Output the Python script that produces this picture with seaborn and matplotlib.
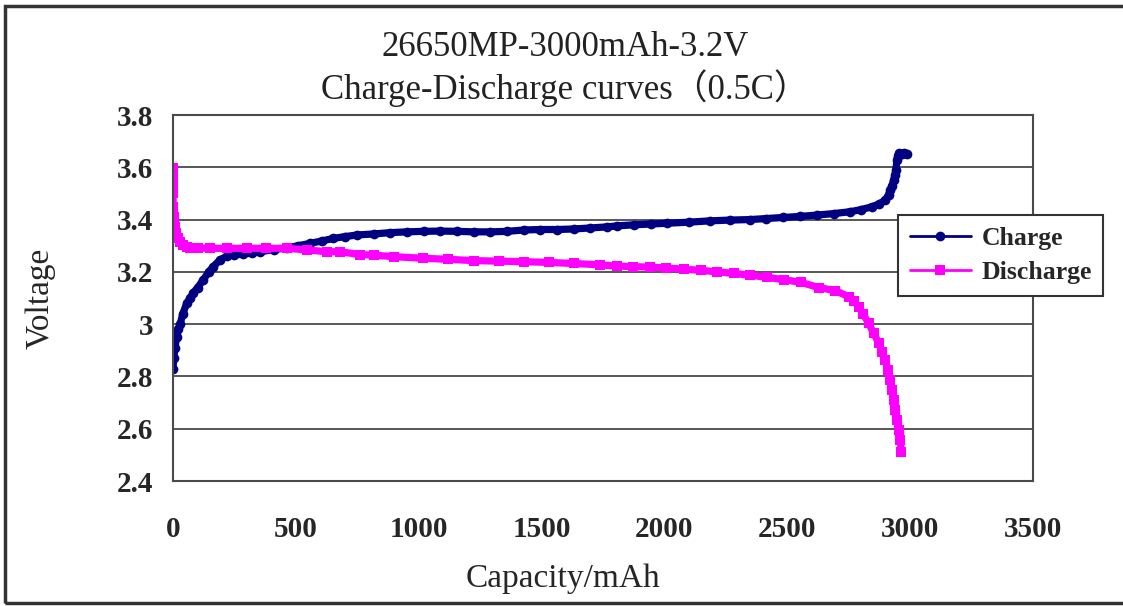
import matplotlib
matplotlib.use("Agg")
import matplotlib.pyplot as plt
from matplotlib.patches import Rectangle
import seaborn as sns
import pandas as pd

# ====================
# DATOS
# ====================
charge_cap = [0, 3, 8, 15, 22, 29, 40, 56, 70, 83, 100, 124, 145, 164, 190, 219, 250, 286,
              320, 355, 410, 463, 510, 558, 605, 653, 700, 749, 816, 884, 952, 1020, 1088,
              1156, 1224, 1292, 1360, 1427, 1495, 1563, 1631, 1699, 1767, 1808, 1876, 1944,
              2012, 2098, 2184, 2265, 2347, 2415, 2483, 2551, 2619, 2690, 2755, 2800, 2844,
              2875, 2899, 2912, 2919, 2926, 2933, 2938, 2942, 2946, 2950, 2956, 2965, 2975, 2987]
charge_v = [2.83, 2.87, 2.91, 2.95, 2.98, 3.00, 3.04, 3.08, 3.10, 3.12, 3.14, 3.17, 3.20, 3.22,
            3.245, 3.26, 3.265, 3.268, 3.272, 3.277, 3.285, 3.292, 3.30, 3.309, 3.318, 3.328,
            3.335, 3.341, 3.345, 3.35, 3.353, 3.355, 3.356, 3.355, 3.353, 3.353, 3.355, 3.36,
            3.362, 3.362, 3.364, 3.368, 3.372, 3.376, 3.38, 3.383, 3.386, 3.39, 3.395, 3.398,
            3.40, 3.404, 3.408, 3.412, 3.417, 3.423, 3.43, 3.438, 3.449, 3.46, 3.475, 3.495,
            3.513, 3.53, 3.551, 3.57, 3.589, 3.627, 3.645, 3.655, 3.65, 3.655, 3.652]

discharge_cap = [0, 0, 0, 0, 1, 3, 8, 14, 22, 30, 42, 55, 69, 100, 150, 219, 300, 380, 463,
                 545, 626, 680, 762, 816, 900, 1019, 1120, 1224, 1325, 1427, 1530, 1631, 1736,
                 1808, 1872, 1940, 2008, 2080, 2147, 2215, 2283, 2350, 2419, 2487, 2555, 2628,
                 2696, 2750, 2772, 2790, 2810, 2831, 2852, 2872, 2886, 2899, 2910, 2919, 2926,
                 2933, 2940, 2946, 2953, 2960, 2964]
discharge_v = [3.596, 3.57, 3.538, 3.50, 3.449, 3.41, 3.372, 3.35, 3.328, 3.315, 3.302, 3.296,
               3.292, 3.291, 3.29, 3.29, 3.29, 3.29, 3.29, 3.284, 3.277, 3.277, 3.266, 3.264,
               3.258, 3.252, 3.248, 3.243, 3.241, 3.239, 3.236, 3.232, 3.227, 3.222, 3.22,
               3.218, 3.215, 3.21, 3.206, 3.2, 3.194, 3.187, 3.179, 3.17, 3.16, 3.14, 3.128,
               3.105, 3.088, 3.067, 3.037, 3.003, 2.965, 2.927, 2.895, 2.863, 2.825, 2.786,
               2.75, 2.71, 2.67, 2.633, 2.595, 2.557, 2.51]

x_ticks = [0, 500, 1000, 1500, 2000, 2500, 3000, 3500]
y_ticks = [2.4, 2.6, 2.8, 3.0, 3.2, 3.4, 3.6, 3.8]

df_charge = pd.DataFrame({"Capacity": charge_cap, "Voltage": charge_v})
df_discharge = pd.DataFrame({"Capacity": discharge_cap, "Voltage": discharge_v})

# ====================
# ESTILO
# ====================
sns.set_theme(style="white")
plt.rcParams["font.family"] = ["Liberation Serif", "Noto Sans CJK SC", "DejaVu Sans"]

charge_color = "#000080"
discharge_color = "#FF00FF"
grid_color = "#4a4a4a"

fig = plt.figure(figsize=(11.23, 6.06), dpi=100)
ax = fig.add_axes([173 / 1123, 1 - 481 / 606, 860 / 1123, 366 / 606])

sns.lineplot(data=df_charge, x="Capacity", y="Voltage", ax=ax, sort=False, estimator=None,
             color=charge_color, linewidth=5.2, marker="o", markersize=7,
             markeredgewidth=0, label="Charge")
sns.lineplot(data=df_discharge, x="Capacity", y="Voltage", ax=ax, sort=False, estimator=None,
             color=discharge_color, linewidth=5.2, marker="s", markersize=6.5,
             markeredgewidth=0, label="Discharge")

ax.set_xlim(0, 3500)
ax.set_ylim(2.4, 3.8)
ax.set_xticks(x_ticks)
ax.set_yticks(y_ticks)
ax.set_xticklabels([str(t) for t in x_ticks], fontsize=21, fontweight="bold")
ax.set_yticklabels([f"{t:g}" for t in y_ticks], fontsize=21, fontweight="bold")
ax.tick_params(axis="x", direction="in", length=8, width=1.3, color=grid_color, pad=25)
ax.tick_params(axis="y", length=0, pad=14)

ax.grid(False)
for y in y_ticks[1:]:
    ax.axhline(y, color=grid_color, linewidth=1.3, zorder=0)
for side in ["left", "bottom", "top", "right"]:
    ax.spines[side].set_visible(True)
    ax.spines[side].set_color(grid_color)
    ax.spines[side].set_linewidth(1.5)

ax.set_xlabel("Capacity/mAh", fontsize=24)
ax.set_ylabel("Voltage", fontsize=24)
ax.xaxis.set_label_coords(0.453, -0.225)
ax.yaxis.set_label_coords(-0.137, 0.5)

# Títulos
fig.text(565 / 1123, 1 - 47 / 606, "26650MP-3000mAh-3.2V", ha="center", va="center",
         fontsize=25, color="#222222")
fig.text(565 / 1123, 1 - 88 / 606, "Charge-Discharge curves（0.5C）", ha="center",
         va="center", fontsize=25, color="#222222")

# Leyenda
leg = ax.legend(loc="upper left", bbox_to_anchor=(898 / 1123, 1 - 215 / 606),
                bbox_transform=fig.transFigure, frameon=True, fancybox=False,
                framealpha=1, edgecolor="#333333", prop={"size": 18.5, "weight": "bold"},
                handlelength=2.4, handletextpad=0.4, borderpad=0.45, labelspacing=0.45,
                borderaxespad=0)
leg.get_frame().set_linewidth(1.5)
for line in leg.get_lines():
    line.set_linewidth(2)
    line.set_markersize(7)

# Marco exterior
fig.patches.append(Rectangle((5 / 1123, 3 / 606), 1.2, 1 - 9 / 606,
                             transform=fig.transFigure, fill=False,
                             edgecolor="#333333", linewidth=2.5))

fig.savefig("out.png", dpi=100)
